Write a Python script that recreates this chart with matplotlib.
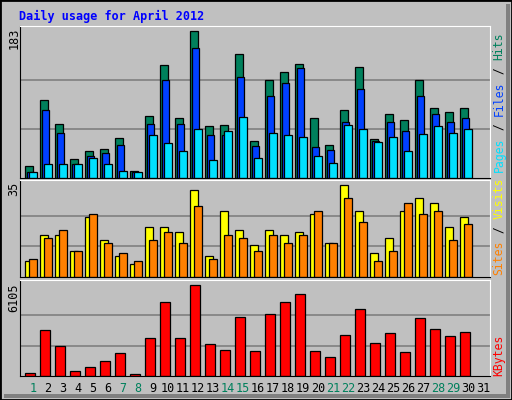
import matplotlib
matplotlib.use('Agg')
import matplotlib.pyplot as plt
from matplotlib.patches import Rectangle

# Daily values (April 2012, days 1..30; day 31 empty)
days = list(range(1, 31))
hits = [15, 97, 67, 24, 33, 36, 50, 9, 77, 140, 75, 183, 64, 66, 154,
        46, 122, 131, 142, 74, 41, 85, 138, 49, 79, 72, 122, 87, 82, 87]
files = [7, 84, 56, 17, 27, 31, 41, 7, 67, 122, 67, 161, 54, 54, 126,
         40, 102, 118, 136, 39, 35, 70, 111, 46, 70, 58, 102, 79, 69, 74]
pages = [7, 17, 17, 18, 25, 17, 9, 7, 53, 43, 34, 61, 22, 58, 76,
         25, 56, 53, 51, 27, 19, 66, 61, 45, 51, 33, 55, 64, 56, 61]
sites = [6, 16, 16, 10, 23, 14, 8, 5, 19, 19, 17, 33, 8, 25, 18,
         12, 18, 16, 17, 24, 13, 35, 25, 9, 15, 25, 30, 28, 19, 23]
visits = [7, 15, 18, 10, 24, 13, 9, 6, 14, 17, 13, 27, 7, 16, 15,
          10, 16, 13, 16, 25, 13, 30, 21, 6, 10, 28, 24, 25, 14, 20]
kbytes = [201, 3086, 2013, 335, 604, 1006, 1543, 134, 2549, 4964, 2549, 6105, 2147, 1744, 3958,
          1677, 4159, 4964, 5501, 1677, 1275, 2751, 4495, 2214, 2885, 1610, 3891, 3153, 2684, 2952]
weekend = [1, 7, 8, 14, 15, 21, 22, 28, 29]

BG = '#C0C0C0'
C_HITS, C_FILES, C_PAGES = '#00805C', '#0040FF', '#00E0FF'
C_SITES, C_VISITS, C_KB = '#FF8000', '#FFFF00', '#FF0000'
W, H = 512, 400
MONO = 'DejaVu Sans Mono'

fig = plt.figure(figsize=(W / 100, H / 100), dpi=100, facecolor=BG)
# outer border
fig.patches.append(Rectangle((0, 0), 1, 1, transform=fig.transFigure,
                             fill=False, edgecolor='black', lw=2))
fig.patches.append(Rectangle((506 / W, 2 / H), 4 / W, 394 / H, transform=fig.transFigure,
                             color='#808080', lw=0))
fig.patches.append(Rectangle((4 / W, 2 / H), 506 / W, 4 / H, transform=fig.transFigure,
                             color='#808080', lw=0))


def panel(top_px, bottom_px, ymax, frac):
    # frac: fraction of axes height covered by ymax
    ax = fig.add_axes([20 / W, (H - bottom_px) / H, 470 / W, (bottom_px - top_px) / H])
    ax.set_facecolor(BG)
    ax.set_xlim(1 - 5 / 15, 1 + 465 / 15)
    ax.set_ylim(0, ymax / frac)
    for g in (ymax / 3, 2 * ymax / 3):
        ax.axhline(g, color='#808080', lw=1.2, zorder=0)
    ax.set_xticks([])
    ax.set_yticks([])
    for s in ('left', 'bottom'):
        ax.spines[s].set_color('black')
    for s in ('top', 'right'):
        ax.spines[s].set_color('white')
    return ax


def bars(ax, vals, off, width, color):
    ax.bar([d + off for d in days], vals, width=width, align='edge',
           color=color, edgecolor='black', lw=0.9, zorder=2)


# top panel: hits / files / pages
ax1 = panel(26, 178, 183, 147.4 / 152)
bars(ax1, hits, 0.0, 0.5, C_HITS)
bars(ax1, files, 0.13, 0.5, C_FILES)
bars(ax1, pages, 0.27, 0.5, C_PAGES)

# middle panel: sites / visits
ax2 = panel(180, 277, 35, 92 / 97)
bars(ax2, sites, 0.0, 0.5, C_SITES.replace('#FF8000', C_VISITS))
bars(ax2, visits, 0.27, 0.5, C_SITES)

# bottom panel: kbytes
ax3 = panel(280, 376, 6105, 91 / 96)
bars(ax3, kbytes, 0.0, 0.68, C_KB)

# day labels
for d in range(1, 32):
    fig.text((25 + (d - 1) * 15 + 8) / W, 1 - 389 / H, str(d), ha='center', va='center',
             family=MONO, fontsize=8.5, color=C_HITS if d in weekend else 'black')

# max value labels
for y, s in [(28, '183'), (182, '35'), (283, '6105')]:
    fig.text(14 / W, 1 - y / H, s, rotation=90, ha='center', va='top',
             family=MONO, fontsize=8.5)

# title
fig.text(19 / W, 1 - 16 / H, 'Daily usage for April 2012', ha='left', va='center',
         family=MONO, fontsize=8.5, weight='bold', color='#0000FF')


def side_label(bottom_px, pieces):
    y = bottom_px
    for s, c in pieces:
        fig.text(499 / W, 1 - y / H, s, rotation=90, ha='center', va='bottom',
                 family=MONO, fontsize=8.3, color=c)
        y -= len(s) * 7


side_label(172, [('Pages', C_PAGES), (' / ', 'black'), ('Files', C_FILES),
                 (' / ', 'black'), ('Hits', C_HITS)])
side_label(275, [('Sites', C_SITES), (' / ', 'black'), ('Visits', C_VISITS)])
side_label(376, [('KBytes', C_KB)])

fig.savefig('out.png', dpi=100, facecolor=BG)
